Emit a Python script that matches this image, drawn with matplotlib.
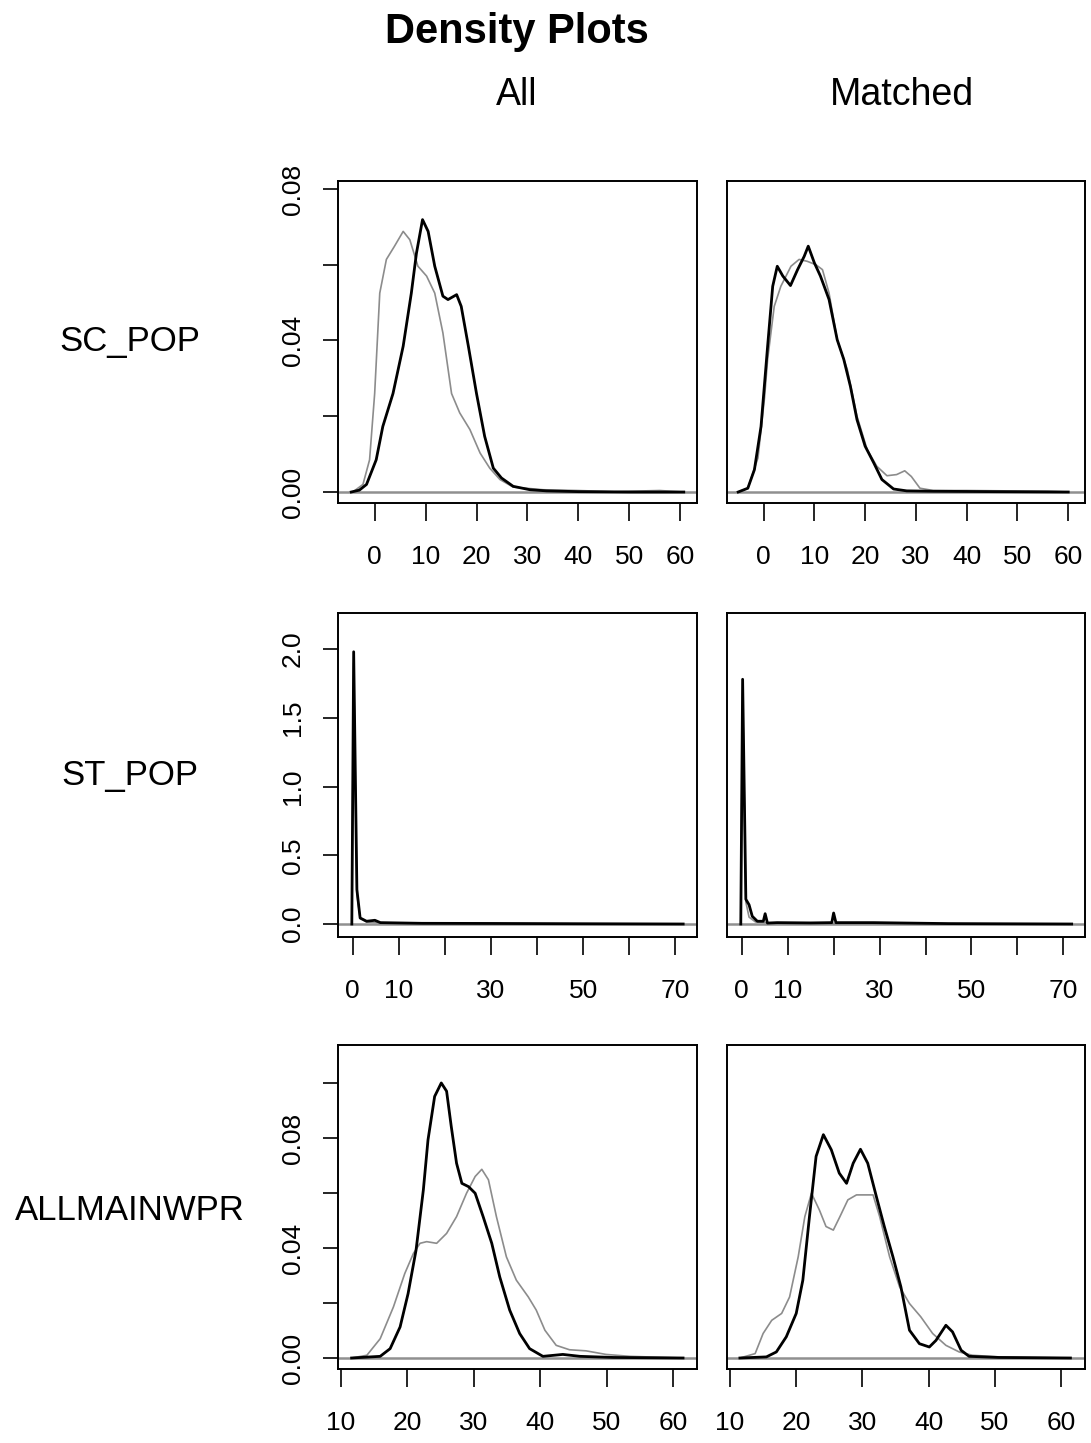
import matplotlib
matplotlib.use("Agg")
import matplotlib.pyplot as plt

plt.rcParams['font.family'] = ['Liberation Sans', 'DejaVu Sans']

# --- data (x, density) ---
# SC_POP, All
sc_all_blk_x = [-4.6, -3.0, -1.6, 0.3, 1.6, 3.6, 5.6, 7.2, 8.2, 9.4, 10.5, 11.8, 13.4, 14.4, 16.1, 17.0, 18.4, 20.0, 21.6, 23.3, 24.9, 27.2, 30.5, 33.8, 40.0, 50.0, 60.7]
sc_all_blk_y = [0.0, 0.0005, 0.002, 0.0085, 0.0173, 0.026, 0.0385, 0.0525, 0.063, 0.0719, 0.0688, 0.0596, 0.0517, 0.0508, 0.0521, 0.049, 0.0385, 0.026, 0.0147, 0.0063, 0.0037, 0.0015, 0.0006, 0.0003, 0.0001, 0.0, 0.0]
sc_all_gry_x = [-4.3, -2.3, -1.0, 0.0, 1.0, 2.3, 3.9, 5.6, 6.9, 8.5, 10.2, 11.8, 13.4, 15.1, 16.7, 18.7, 20.7, 22.6, 24.6, 27.2, 33.1, 39.7, 47.0, 56.0, 60.6]
sc_all_gry_y = [0.0, 0.002, 0.0085, 0.026, 0.0525, 0.0614, 0.0649, 0.0688, 0.0666, 0.0596, 0.057, 0.0525, 0.042, 0.026, 0.0209, 0.0165, 0.0103, 0.0063, 0.0033, 0.0013, 0.0006, 0.0004, 0.0001, 0.0004, 0.0]
# SC_POP, Matched
sc_mat_blk_x = [-5.0, -3.1, -1.8, -0.5, 0.8, 1.8, 2.7, 3.8, 5.3, 6.7, 8.0, 8.8, 10.0, 11.2, 12.9, 14.5, 15.8, 17.1, 18.4, 20.0, 21.7, 23.3, 25.6, 28.2, 33.4, 45.0, 60.0]
sc_mat_blk_y = [0.0, 0.001, 0.0059, 0.0173, 0.0385, 0.0543, 0.0596, 0.057, 0.0545, 0.0587, 0.0622, 0.0649, 0.0605, 0.057, 0.0508, 0.0402, 0.035, 0.0279, 0.0191, 0.0121, 0.0077, 0.0033, 0.0008, 0.0003, 0.0002, 0.0001, 0.0]
sc_mat_gry_x = [-5.0, -3.1, -1.1, 0.2, 0.8, 2.1, 3.4, 5.4, 7.0, 8.6, 10.3, 11.6, 12.9, 14.5, 16.5, 18.4, 20.4, 22.3, 24.3, 26.2, 27.8, 29.1, 30.8, 33.4, 39.9, 56.0, 60.0]
sc_mat_gry_y = [0.0, 0.001, 0.009, 0.025, 0.035, 0.049, 0.0543, 0.0596, 0.0614, 0.0609, 0.06, 0.0587, 0.0525, 0.0402, 0.0323, 0.02, 0.0112, 0.0068, 0.0043, 0.0046, 0.0056, 0.0041, 0.001, 0.0004, 0.0004, 0.0002, 0.0]
# ST_POP, All
st_all_blk_x = [-0.2, 0.2, 0.9, 1.6, 3.0, 4.8, 6.0, 15.0, 30.0, 50.0, 71.7]
st_all_blk_y = [0.0, 1.98, 0.25, 0.044, 0.02, 0.027, 0.01, 0.005, 0.004, 0.002, 0.0]
st_all_gry_x = [-0.2, 0.2, 0.9, 1.6, 3.0, 6.0, 15.0, 30.0, 50.0, 71.7]
st_all_gry_y = [0.0, 1.9, 0.22, 0.04, 0.015, 0.008, 0.004, 0.003, 0.001, 0.0]
# ST_POP, Matched
st_mat_blk_x = [-0.2, 0.2, 0.9, 1.6, 2.3, 3.4, 4.7, 5.1, 5.6, 7.7, 15.0, 19.6, 20.0, 20.5, 28.7, 45.0, 71.8]
st_mat_blk_y = [0.0, 1.78, 0.18, 0.14, 0.056, 0.02, 0.02, 0.075, 0.007, 0.01, 0.008, 0.01, 0.08, 0.01, 0.01, 0.003, 0.0]
st_mat_gry_x = [-0.2, 0.2, 0.9, 1.6, 3.0, 6.0, 15.0, 30.0, 50.0, 71.8]
st_mat_gry_y = [0.0, 1.7, 0.16, 0.05, 0.015, 0.008, 0.004, 0.003, 0.001, 0.0]
# ALLMAINWPR, All
wp_all_blk_x = [11.6, 15.9, 17.4, 18.9, 20.1, 21.3, 22.4, 23.1, 24.1, 25.1, 25.9, 26.6, 27.4, 28.2, 29.2, 30.2, 31.4, 32.7, 33.9, 35.4, 36.9, 38.4, 40.4, 43.4, 46.0, 51.0, 61.5]
wp_all_blk_y = [0.0, 0.0006, 0.0034, 0.0113, 0.0234, 0.0392, 0.0611, 0.0793, 0.0951, 0.1, 0.097, 0.0842, 0.0708, 0.0635, 0.0623, 0.0599, 0.0514, 0.0417, 0.0295, 0.0174, 0.0089, 0.0034, 0.0006, 0.0013, 0.0006, 0.0002, 0.0]
wp_all_gry_x = [11.6, 13.9, 15.9, 17.9, 19.6, 20.9, 21.9, 22.9, 24.4, 25.9, 27.4, 28.9, 30.2, 31.2, 32.2, 33.4, 34.9, 36.4, 38.2, 39.4, 40.7, 42.4, 44.4, 46.9, 49.9, 53.5, 61.5]
wp_all_gry_y = [0.0, 0.001, 0.007, 0.0186, 0.0307, 0.038, 0.0417, 0.0423, 0.0417, 0.0453, 0.0514, 0.0599, 0.066, 0.0686, 0.0648, 0.0514, 0.0368, 0.0283, 0.0222, 0.0174, 0.0101, 0.0046, 0.003, 0.0026, 0.0013, 0.0006, 0.0]
# ALLMAINWPR, Matched
wp_mat_blk_x = [11.5, 15.5, 17.0, 18.5, 20.0, 21.0, 22.0, 23.0, 24.1, 25.3, 26.5, 27.6, 28.6, 29.7, 30.8, 32.1, 33.3, 34.6, 35.8, 37.1, 38.6, 40.1, 41.1, 42.6, 43.6, 44.9, 46.1, 50.6, 61.4]
wp_mat_blk_y = [0.0, 0.0004, 0.0022, 0.0077, 0.0162, 0.0283, 0.0514, 0.0733, 0.0812, 0.0757, 0.0672, 0.0635, 0.0708, 0.0759, 0.0708, 0.0587, 0.0478, 0.0368, 0.0259, 0.0101, 0.0052, 0.004, 0.0064, 0.0119, 0.0095, 0.0028, 0.0006, 0.0002, 0.0]
wp_mat_gry_x = [11.5, 13.8, 15.0, 16.3, 17.8, 19.0, 20.3, 21.3, 22.3, 23.5, 24.5, 25.6, 26.6, 27.8, 29.1, 31.6, 32.6, 34.1, 35.6, 37.1, 38.8, 40.6, 42.6, 44.6, 46.6, 50.6, 61.4]
wp_mat_gry_y = [0.0, 0.0016, 0.0089, 0.0137, 0.0162, 0.0222, 0.0368, 0.0514, 0.0599, 0.0538, 0.0478, 0.0465, 0.0514, 0.0575, 0.0593, 0.0593, 0.0514, 0.0368, 0.0259, 0.0198, 0.015, 0.0089, 0.0046, 0.0022, 0.001, 0.0004, 0.0]

row_names = ["SC_POP", "ST_POP", "ALLMAINWPR"]
col_names = ["All", "Matched"]

curves = [
    [(sc_all_gry_x, sc_all_gry_y, sc_all_blk_x, sc_all_blk_y), (sc_mat_gry_x, sc_mat_gry_y, sc_mat_blk_x, sc_mat_blk_y)],
    [(st_all_gry_x, st_all_gry_y, st_all_blk_x, st_all_blk_y), (st_mat_gry_x, st_mat_gry_y, st_mat_blk_x, st_mat_blk_y)],
    [(wp_all_gry_x, wp_all_gry_y, wp_all_blk_x, wp_all_blk_y), (wp_mat_gry_x, wp_mat_gry_y, wp_mat_blk_x, wp_mat_blk_y)],
]

xlims = [(-7.2, 63.3), (-3.2, 74.7), (9.55, 63.6)]
ylims = [(-0.0029, 0.0821), (-0.0945, 2.262), (-0.004, 0.1138)]
xticks = [[0, 10, 20, 30, 40, 50, 60], [0, 10, 20, 30, 40, 50, 60, 70], [10, 20, 30, 40, 50, 60]]
xticklabels = [["0", "10", "20", "30", "40", "50", "60"],
               ["0", "10", "", "30", "", "50", "", "70"],
               ["10", "20", "30", "40", "50", "60"]]
yticks = [[0, 0.02, 0.04, 0.06, 0.08], [0, 0.5, 1.0, 1.5, 2.0], [0, 0.02, 0.04, 0.06, 0.08, 0.10]]
yticklabels = [["0.00", "", "0.04", "", "0.08"],
               ["0.0", "0.5", "1.0", "1.5", "2.0"],
               ["0.00", "", "0.04", "", "0.08", ""]]

W, H = 1091, 1443
fig = plt.figure(figsize=(W / 100, H / 100), dpi=100)

# panel boxes in pixels: (left, right) and (top, bottom)
col_px = [(338, 697), (727, 1085)]
row_px = [(181, 503), (613, 937), (1045, 1369)]

for r in range(3):
    for c in range(2):
        l, rr = col_px[c]
        t, b = row_px[r]
        ax = fig.add_axes([l / W, 1 - b / H, (rr - l) / W, (b - t) / H])
        gx, gy, bx, by = curves[r][c]
        ax.axhline(0, color="#909090", lw=1.8, zorder=1)
        ax.plot(gx, gy, color="#8c8c8c", lw=1.2, zorder=2, solid_joinstyle="round")
        ax.plot(bx, by, color="black", lw=2.0, zorder=3, solid_joinstyle="round")
        ax.set_xlim(*xlims[r])
        ax.set_ylim(*ylims[r])
        ax.set_xticks(xticks[r])
        ax.set_xticklabels(xticklabels[r])
        ax.tick_params(axis="x", direction="out", length=13, width=1.2, pad=17, labelsize=19)
        if c == 0:
            ax.set_yticks(yticks[r])
            ax.set_yticklabels(yticklabels[r], rotation=90, va="center")
            ax.tick_params(axis="y", direction="out", length=11, width=1.2, pad=13, labelsize=19)
        else:
            ax.set_yticks([])
        for s in ax.spines.values():
            s.set_linewidth(1.4)

fig.text(517 / W, 1 - 32 / H, "Density Plots", ha="center", va="center",
         fontsize=30, fontweight="bold")
fig.text(517 / W, 1 - 95 / H, col_names[0], ha="center", va="center", fontsize=27)
fig.text(902 / W, 1 - 95 / H, col_names[1], ha="center", va="center", fontsize=27)
for name, yc in zip(row_names, [342, 775, 1210]):
    fig.text(130 / W, 1 - yc / H, name, ha="center", va="center", fontsize=25)

fig.savefig("out.png", dpi=100)
